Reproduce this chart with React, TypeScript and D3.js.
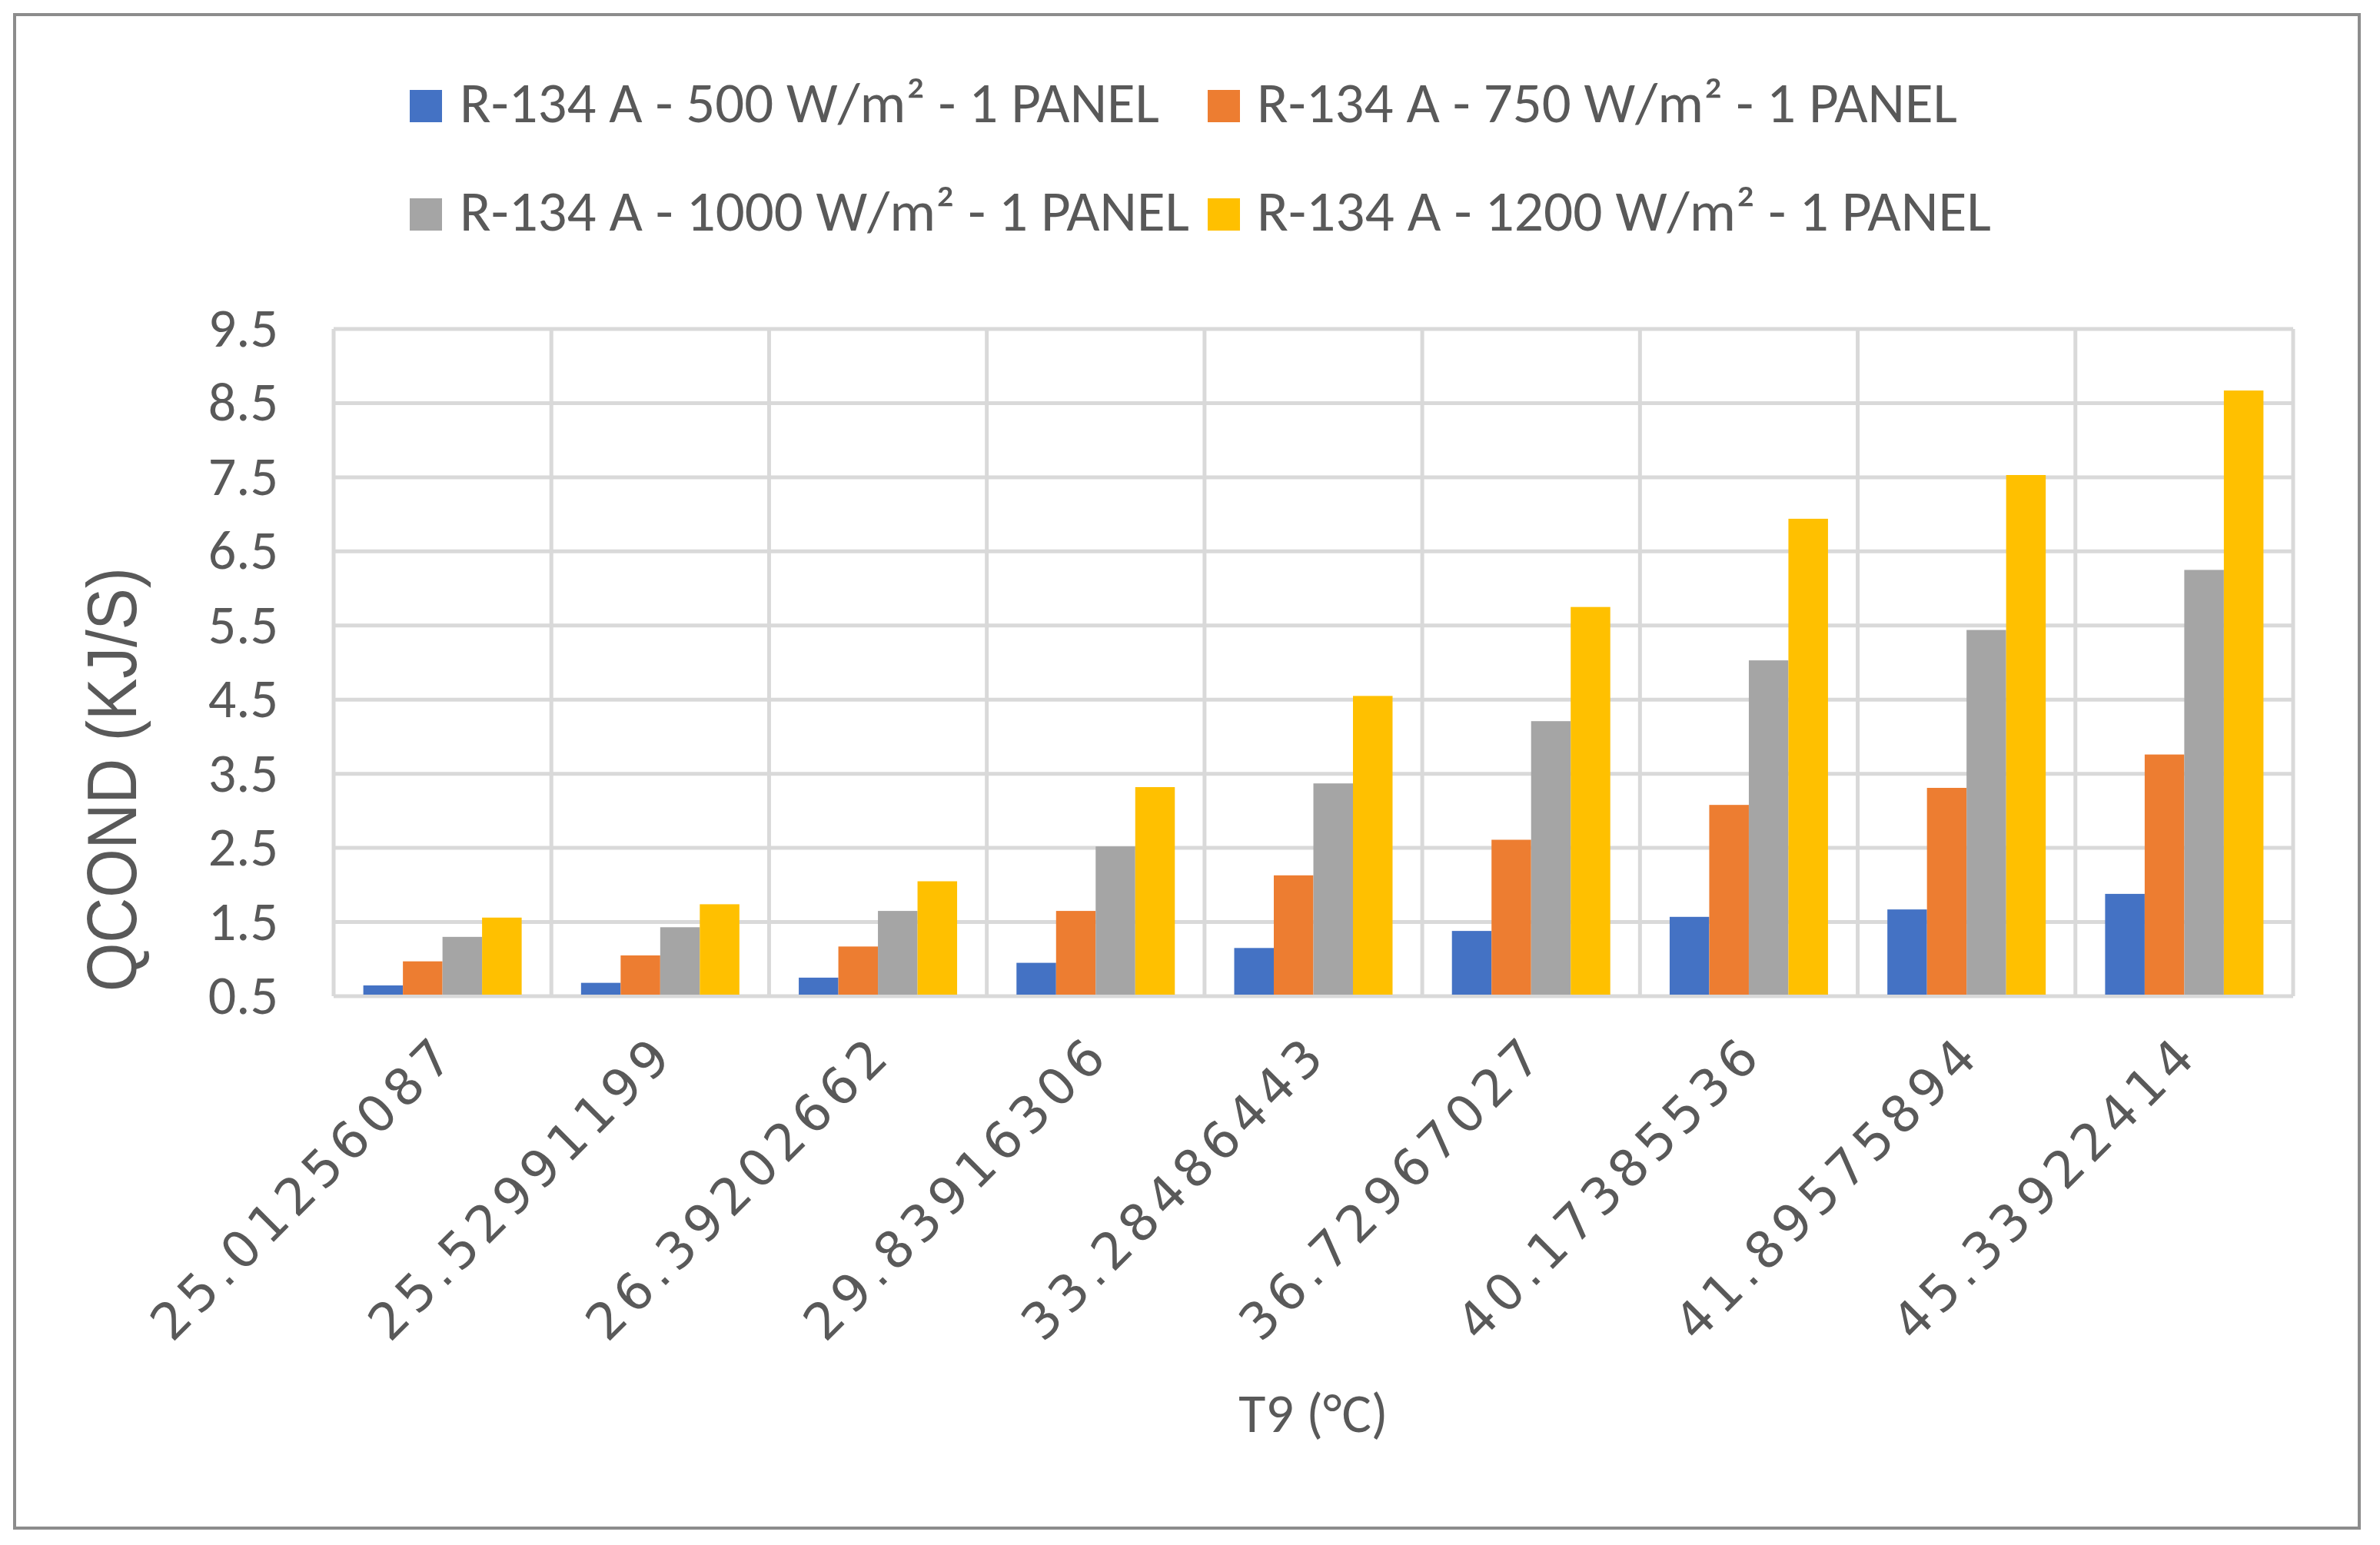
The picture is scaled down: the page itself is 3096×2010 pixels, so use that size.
import React from "react";
import * as d3 from "d3";

const categories = [
  "25.01256087",
  "25.52991199",
  "26.39202662",
  "29.83916306",
  "33.28486443",
  "36.72967027",
  "40.17385536",
  "41.89575894",
  "45.33922414",
];

const seriesNames = [
  "R-134 A - 500 W/m² - 1 PANEL",
  "R-134 A - 750 W/m² - 1 PANEL",
  "R-134 A - 1000 W/m² - 1 PANEL",
  "R-134 A - 1200 W/m² - 1 PANEL",
];

const s500 = [0.645, 0.68, 0.75, 0.95, 1.15, 1.38, 1.57, 1.67, 1.88];
const s750 = [0.97, 1.05, 1.17, 1.65, 2.13, 2.61, 3.08, 3.31, 3.76];
const s1000 = [1.3, 1.43, 1.65, 2.52, 3.37, 4.21, 5.03, 5.44, 6.25];
const s1200 = [1.56, 1.74, 2.05, 3.32, 4.55, 5.75, 6.94, 7.53, 8.67];

const seriesValues = [s500, s750, s1000, s1200];
const colors = ["#4472C4", "#ED7D31", "#A5A5A5", "#FFC000"];

const yTicks = [0.5, 1.5, 2.5, 3.5, 4.5, 5.5, 6.5, 7.5, 8.5, 9.5];

const yTitle = "QCOND (KJ/S)";
const xTitle = "T9 (°C)";

const W = 3096;
const H = 2010;
const plot = { left: 434, right: 2983, top: 428, bottom: 1296 };
const textColor = "#595959";
const gridColor = "#D9D9D9";
const calibri = "Carlito, Calibri, Lato, 'Noto Sans', sans-serif";

export default function App() {
  const x = d3
    .scaleBand<string>()
    .domain(categories)
    .range([plot.left, plot.right])
    .paddingInner(0)
    .paddingOuter(0);
  const bw = x.bandwidth();
  const barW = bw / (seriesNames.length + 1.5);
  const inner = d3
    .scaleBand<number>()
    .domain(d3.range(seriesNames.length))
    .range([barW * 0.75, bw - barW * 0.75])
    .padding(0);
  const y = d3.scaleLinear().domain([0.5, 9.5]).range([plot.bottom, plot.top]);

  const legendItems = [
    { i: 0, sx: 533, tx: 598, base: 159, len: 910 },
    { i: 1, sx: 1571, tx: 1635, base: 159, len: 911 },
    { i: 2, sx: 533, tx: 598, base: 300, len: 949 },
    { i: 3, sx: 1571, tx: 1635, base: 300, len: 955 },
  ];

  const boundaries = categories.map((c) => x(c) as number).concat([plot.right]);

  return (
    <svg
      width={W}
      height={H}
      viewBox={`0 0 ${W} ${H}`}
      style={{ position: "absolute", left: 0, top: 0, background: "#fff" }}
    >
      <rect x={0} y={0} width={W} height={H} fill="#fff" />
      <rect
        x={19}
        y={19}
        width={3050}
        height={1969}
        fill="#fff"
        stroke="#8C8C8C"
        strokeWidth={4}
      />

      {/* gridlines */}
      {yTicks.map((t) => (
        <line
          key={"h" + t}
          x1={plot.left}
          x2={plot.right}
          y1={y(t)}
          y2={y(t)}
          stroke={gridColor}
          strokeWidth={5}
        />
      ))}
      {boundaries.map((bx, k) => (
        <line
          key={"v" + k}
          x1={bx}
          x2={bx}
          y1={plot.top}
          y2={plot.bottom}
          stroke={gridColor}
          strokeWidth={5}
        />
      ))}

      {/* bars */}
      {categories.map((c, ci) => (
        <g key={c}>
          {seriesValues.map((vals, si) => (
            <rect
              key={si}
              x={(x(c) as number) + (inner(si) as number)}
              y={y(vals[ci])}
              width={inner.bandwidth()}
              height={y(0.5) - y(vals[ci]) - 2}
              fill={colors[si]}
            />
          ))}
        </g>
      ))}

      {/* y tick labels */}
      {yTicks.map((t) => (
        <text
          key={"yl" + t}
          x={362}
          y={y(t) + 23}
          textAnchor="end"
          fontFamily={calibri}
          fontSize={72}
          fill={textColor}
        >
          {t.toFixed(1)}
        </text>
      ))}

      {/* x tick labels */}
      {categories.map((c) => {
        const cx = (x(c) as number) + bw / 2 + 16;
        const cy = 1380;
        return (
          <text
            key={"xl" + c}
            transform={`translate(${cx},${cy}) rotate(-45)`}
            textAnchor="end"
            fontFamily="'DejaVu Sans', Verdana, sans-serif"
            fontSize={66}
            fill={textColor}
            textLength={520}
            lengthAdjust="spacing"
          >
            {c}
          </text>
        );
      })}

      {/* axis titles */}
      <text
        transform={`translate(177,1014) rotate(-90)`}
        textAnchor="middle"
        fontFamily="'Liberation Sans', Arial, sans-serif"
        fontSize={90}
        fill={textColor}
        textLength={552}
        lengthAdjust="spacingAndGlyphs"
      >
        {yTitle}
      </text>
      <text
        x={(plot.left + plot.right) / 2}
        y={1863}
        textAnchor="middle"
        fontFamily={calibri}
        fontSize={72}
        fill={textColor}
      >
        {xTitle}
      </text>

      {/* legend */}
      {legendItems.map((it) => (
        <g key={"lg" + it.i}>
          <rect
            x={it.sx}
            y={it.base - 42}
            width={42}
            height={42}
            fill={colors[it.i]}
          />
          <text
            x={it.tx}
            y={it.base}
            fontFamily={calibri}
            fontSize={74}
            fill={textColor}
            textLength={it.len}
            lengthAdjust="spacingAndGlyphs"
          >
            {seriesNames[it.i]}
          </text>
        </g>
      ))}
    </svg>
  );
}
